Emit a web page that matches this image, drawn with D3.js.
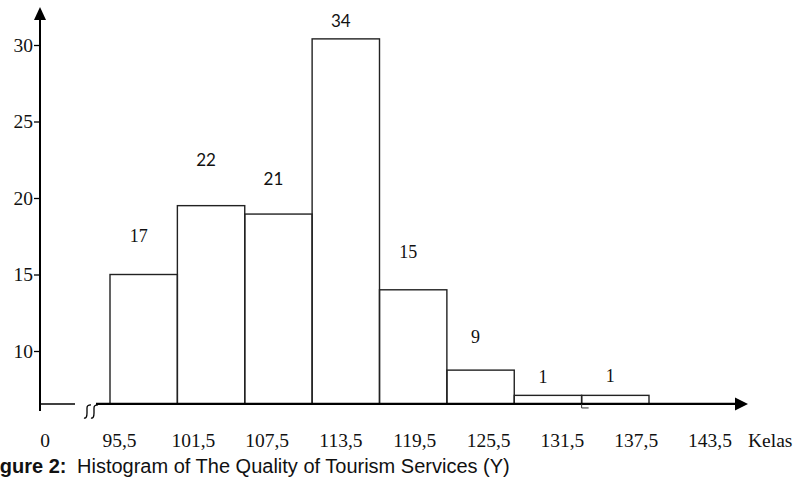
<!DOCTYPE html>
<html>
<head>
<meta charset="utf-8">
<script src="https://cdn.jsdelivr.net/npm/d3@7"></script>
<style>
  body { margin: 0; background: #fff; }
  svg { display: block; }
</style>
</head>
<body>
<div id="chart"></div>
<script>
// class boundaries (tick labels on the x axis)
var classBounds = [95.5, 101.5, 107.5, 113.5, 119.5, 125.5, 131.5, 137.5, 143.5];
// frequency written above each bar
var freq = [17, 22, 21, 34, 15, 9, 1, 1];
// bar heights as drawn against the y axis
var barHeight = [15.0, 19.5, 18.95, 30.4, 14.0, 8.75, 7.1, 7.1];
// level (y units) where each frequency label sits
var labelLevel = [17.1, 22.1, 20.85, 31.2, 16.1, 10.5, 7.9, 8.0];
var yTicks = [10, 15, 20, 25, 30];

var width = 807, height = 480;
var yBase = 6.54;   // value where the broken axis starts

var svg = d3.select("#chart").append("svg")
  .attr("width", width)
  .attr("height", height);

var x = d3.scaleLinear().domain([95.5, 143.5]).range([110, 649]);
// the typed tick labels are spaced wider than the bars
var xLab = d3.scaleLinear().domain([95.5, 143.5]).range([119.5, 710]);
var y = d3.scaleLinear().domain([10, 30]).range([351, 45]);

var axisX = 40;
var baseY = y(yBase);

// bars
var bars = freq.map(function(f, i) {
  return { lo: classBounds[i], hi: classBounds[i + 1], h: barHeight[i], f: f, lv: labelLevel[i] };
});

svg.selectAll("rect.bar")
  .data(bars)
  .enter().append("rect")
  .attr("class", "bar")
  .attr("x", function(d) { return x(d.lo); })
  .attr("y", function(d) { return y(d.h); })
  .attr("width", function(d) { return x(d.hi) - x(d.lo); })
  .attr("height", function(d) { return baseY - y(d.h); })
  .attr("fill", "none")
  .attr("stroke", "#222")
  .attr("stroke-width", 1.4);

// frequency labels (some typed in a sans font, some in serif)
var sansIdx = new Set([1, 2, 3]);
svg.selectAll("text.freq")
  .data(bars)
  .enter().append("text")
  .attr("class", "freq")
  .attr("x", function(d) { return (x(d.lo) + x(d.hi)) / 2 - 5; })
  .attr("y", function(d) { return y(d.lv); })
  .attr("text-anchor", "middle")
  .attr("font-family", function(d, i) { return sansIdx.has(i) ? "Lato, 'Open Sans', sans-serif" : "'Liberation Serif', 'Times New Roman', serif"; })
  .attr("font-size", function(d, i) { return sansIdx.has(i) ? "17px" : "18px"; })
  .attr("fill", "#111")
  .text(function(d) { return d.f; });

// y axis: ticks through d3, line + arrow by hand
var yAxis = d3.axisLeft(y).tickValues(yTicks).tickSize(6).tickPadding(1);
var gy = svg.append("g")
  .attr("transform", "translate(" + axisX + ",0)")
  .call(yAxis);
gy.select(".domain").remove();
gy.selectAll(".tick line").attr("stroke", "#000").attr("stroke-width", 1.3);
gy.selectAll(".tick text")
  .attr("font-family", "'Liberation Serif', 'Times New Roman', serif")
  .attr("font-size", "19.5px")
  .attr("fill", "#111")
  .attr("dy", "0.33em");

svg.append("line")
  .attr("x1", axisX).attr("x2", axisX)
  .attr("y1", baseY + 7).attr("y2", 18)
  .attr("stroke", "#000").attr("stroke-width", 2);
svg.append("path")
  .attr("d", "M" + axisX + ",7 L" + (axisX - 6) + ",20 L" + (axisX + 6) + ",20 Z")
  .attr("fill", "#000");

// x baseline: short piece, break mark, main line with arrow
svg.append("line")
  .attr("x1", axisX).attr("x2", 75)
  .attr("y1", baseY).attr("y2", baseY)
  .attr("stroke", "#000").attr("stroke-width", 1.5);

[0, 7].forEach(function(dx) {
  svg.append("path")
    .attr("d", "M" + (84 + dx) + "," + (baseY + 14) +
      " Q" + (87 + dx) + "," + (baseY + 15) + " " + (87 + dx) + "," + (baseY + 9) +
      " L" + (87 + dx) + "," + (baseY + 4) +
      " Q" + (87 + dx) + "," + (baseY + 1) + " " + (91 + dx) + "," + (baseY + 1))
    .attr("fill", "none")
    .attr("stroke", "#000")
    .attr("stroke-width", 1.3);
});

svg.append("line")
  .attr("x1", 96).attr("x2", 737)
  .attr("y1", baseY).attr("y2", baseY)
  .attr("stroke", "#000").attr("stroke-width", 2.2);
svg.append("path")
  .attr("d", "M748," + baseY + " L735," + (baseY - 6.5) + " L735," + (baseY + 6.5) + " Z")
  .attr("fill", "#000");

// small stray mark under the 131,5-137,5 boundary
svg.append("path")
  .attr("d", "M" + x(137.5) + "," + baseY + " L" + x(137.5) + "," + (baseY + 4) + " L" + (x(137.5) + 7) + "," + (baseY + 4))
  .attr("fill", "none").attr("stroke", "#333").attr("stroke-width", 1);

// x tick labels
var serif = "'Liberation Serif', 'Times New Roman', serif";
svg.selectAll("text.xlab")
  .data(classBounds)
  .enter().append("text")
  .attr("class", "xlab")
  .attr("x", function(d) { return xLab(d); })
  .attr("y", 447)
  .attr("text-anchor", "middle")
  .attr("font-family", serif)
  .attr("font-size", "19.5px")
  .attr("fill", "#111")
  .text(function(d) { return d3.format(".1f")(d).replace(".", ","); });

svg.append("text")
  .attr("x", 45).attr("y", 447)
  .attr("text-anchor", "middle")
  .attr("font-family", serif).attr("font-size", "19.5px").attr("fill", "#111")
  .text("0");

svg.append("text")
  .attr("x", 748).attr("y", 447)
  .attr("font-family", serif).attr("font-size", "19.5px").attr("fill", "#111")
  .text("Kelas");

// caption (left edge cut off in the original)
var cap = svg.append("text")
  .attr("y", 473)
  .attr("font-family", "'Liberation Sans', Arial, sans-serif")
  .attr("font-size", "20px")
  .attr("fill", "#111");
cap.append("tspan").attr("x", -18).attr("font-weight", "bold").text("Figure 2:");
cap.append("tspan").attr("x", 77).text("Histogram of The Quality of Tourism Services (Y)");
</script>
</body>
</html>
